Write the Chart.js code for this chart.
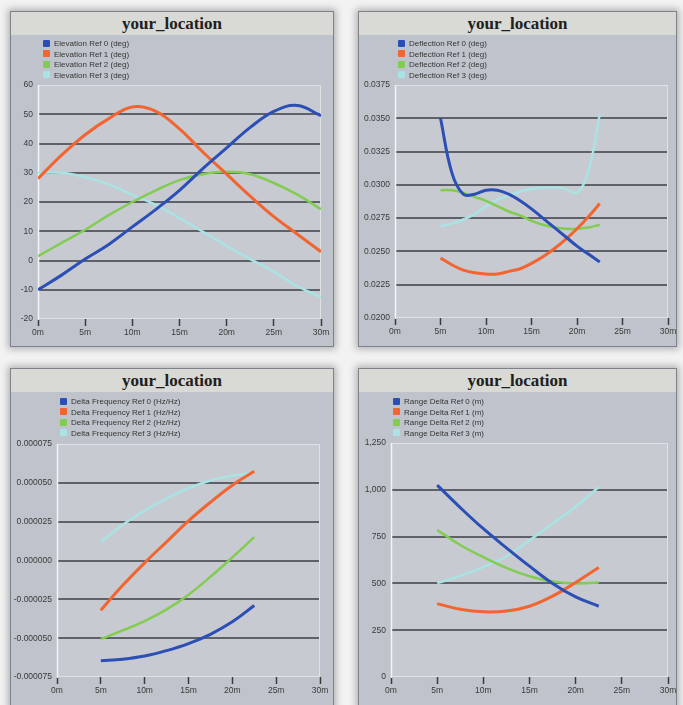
<!DOCTYPE html>
<html>
<head>
<meta charset="utf-8">
<script src="https://cdn.jsdelivr.net/npm/chart.js@4.4.1/dist/chart.umd.min.js"></script>
<style>
  html, body { margin: 0; padding: 0; width: 683px; height: 705px; overflow: hidden; background: #f2f2f2; }
  .panel { position: absolute; box-sizing: border-box; border: 1px solid #7f828a; background: #bfc3cb;
           box-shadow: 0 0 7px 2px rgba(0,0,0,0.28); overflow: hidden; }
  .title { position: absolute; left: 0; top: 0; right: 0; height: 23px; background: #d9d9d5;
           font: bold 17px "Liberation Serif", serif; color: #202020; text-align: center; line-height: 23px; }
  .plot { position: absolute; left: 0; top: 23px; }
  .legend { position: absolute; font: 8px "Liberation Sans", sans-serif; color: #353535; }
  .legend div { height: 10.5px; line-height: 10.5px; white-space: nowrap; }
  .legend span { display: inline-block; width: 7px; height: 7px; margin-right: 4px; vertical-align: -0.5px; border-radius: 1px; }
</style>
</head>
<body>
<div id="panels"></div>
<script>
// ---- data -------------------------------------------------------------
const chartTitle = 'your_location';
const xTickLabels = ['0m', '5m', '10m', '15m', '20m', '25m', '30m'];

// Elevation (deg)
const elevationDistance = [0, 2.5, 5, 7.5, 10, 12.5, 15, 17.5, 20, 22.5, 25, 27.5, 30];
const elevationRef0 = [-10, -5, 0.5, 5.5, 11.5, 17.5, 24, 31.5, 38.5, 45.5, 51, 53, 49.5];
const elevationRef1 = [28, 36, 43, 48.5, 52.5, 51, 45, 37, 29.5, 22, 15, 9, 3];
const elevationRef2 = [1.5, 6, 10.5, 15.5, 20, 24, 27.5, 29.5, 30.3, 29.5, 26.5, 22.5, 17.5];
const elevationRef3 = [30, 30, 28.5, 26, 22.5, 19, 14.5, 9.8, 5, 0.5, -3.8, -8.8, -12.5];
const elevationLabels = ['Elevation Ref 0 (deg)', 'Elevation Ref 1 (deg)', 'Elevation Ref 2 (deg)', 'Elevation Ref 3 (deg)'];
const elevationTicks = ['-20', '-10', '0', '10', '20', '30', '40', '50', '60'];

// Deflection (deg)
const deflectionDistance = [5, 6.25, 7.5, 8.75, 10, 11.25, 12.5, 13.75, 15, 16.25, 17.5, 18.75, 20, 21.25, 22.5];
const deflectionRef0 = [0.0350, 0.0309, 0.0293, 0.0293, 0.0296, 0.0296, 0.0293, 0.0288, 0.0282, 0.0275, 0.0268, 0.0261, 0.0254, 0.0248, 0.0242];
const deflectionRef1 = [0.0245, 0.0240, 0.0236, 0.0234, 0.0233, 0.0233, 0.0235, 0.0237, 0.0241, 0.0246, 0.0252, 0.0259, 0.0267, 0.0276, 0.0286];
const deflectionRef2 = [0.0296, 0.0296, 0.0294, 0.0291, 0.0288, 0.0284, 0.0280, 0.0277, 0.0273, 0.0270, 0.0268, 0.0267, 0.0267, 0.0268, 0.0270];
const deflectionRef3 = [0.0269, 0.0271, 0.0274, 0.0278, 0.0284, 0.0289, 0.0292, 0.0295, 0.0297, 0.0298, 0.0298, 0.0297, 0.0294, 0.0310, 0.0353];
const deflectionLabels = ['Deflection Ref 0 (deg)', 'Deflection Ref 1 (deg)', 'Deflection Ref 2 (deg)', 'Deflection Ref 3 (deg)'];
const deflectionTicks = ['0.0200', '0.0225', '0.0250', '0.0275', '0.0300', '0.0325', '0.0350', '0.0375'];

// Delta frequency (Hz/Hz)
const frequencyDistance = [5, 7.5, 10, 12.5, 15, 17.5, 20, 22.5];
const frequencyRef0 = [-0.0000645, -0.0000635, -0.0000615, -0.000058, -0.0000535, -0.0000475, -0.0000395, -0.000029];
const frequencyRef1 = [-0.000032, -0.000016, -0.0000015, 0.000012, 0.0000255, 0.0000375, 0.0000485, 0.0000575];
const frequencyRef2 = [-0.0000505, -0.000045, -0.000039, -0.0000315, -0.000022, -0.0000105, 0.000002, 0.000015];
const frequencyRef3 = [0.000012, 0.000023, 0.000032, 0.000040, 0.0000465, 0.0000515, 0.0000545, 0.0000565];
const frequencyLabels = ['Delta Frequency Ref 0 (Hz/Hz)', 'Delta Frequency Ref 1 (Hz/Hz)', 'Delta Frequency Ref 2 (Hz/Hz)', 'Delta Frequency Ref 3 (Hz/Hz)'];
const frequencyTicks = ['-0.000075', '-0.000050', '-0.000025', '0.000000', '0.000025', '0.000050', '0.000075'];

// Range delta (m)
const rangeDistance = [5, 7.5, 10, 12.5, 15, 17.5, 20, 22.5];
const rangeRef0 = [1025, 905, 792, 690, 592, 500, 428, 378];
const rangeRef1 = [392, 362, 348, 352, 378, 432, 505, 585];
const rangeRef2 = [785, 705, 640, 583, 538, 510, 500, 505];
const rangeRef3 = [502, 540, 588, 645, 730, 820, 910, 1015];
const rangeLabels = ['Range Delta Ref 0 (m)', 'Range Delta Ref 1 (m)', 'Range Delta Ref 2 (m)', 'Range Delta Ref 3 (m)'];
const rangeTicks = ['0', '250', '500', '750', '1,000', '1,250'];

const seriesColors = ['#2c4fb5', '#f26430', '#82cc52', '#a9e3e3'];
const seriesWidths = [3, 3, 2.5, 2.5];

// ---- panel layout -----------------------------------------------------
const panels = [
  { left: 10,  top: 11,  width: 324, height: 336, legendX: 32, legendY: 27,
    distance: elevationDistance, series: [elevationRef0, elevationRef1, elevationRef2, elevationRef3],
    labels: elevationLabels, ticks: elevationTicks, min: -20, max: 60, step: 10,
    yWidth: 27, pad: { left: 0, right: 12, top: 50, bottom: 3 } },
  { left: 358, top: 11,  width: 319, height: 336, legendX: 39, legendY: 27,
    distance: deflectionDistance, series: [deflectionRef0, deflectionRef1, deflectionRef2, deflectionRef3],
    labels: deflectionLabels, ticks: deflectionTicks, min: 0.02, max: 0.0375, step: 0.0025,
    yWidth: 36, pad: { left: 0, right: 8, top: 50, bottom: 4 } },
  { left: 10,  top: 368, width: 324, height: 340, legendX: 49, legendY: 28,
    distance: frequencyDistance, series: [frequencyRef0, frequencyRef1, frequencyRef2, frequencyRef3],
    labels: frequencyLabels, ticks: frequencyTicks, min: -0.000075, max: 0.000075, step: 0.000025,
    yWidth: 46, pad: { left: 0, right: 13, top: 52, bottom: 6 } },
  { left: 358, top: 368, width: 319, height: 340, legendX: 34, legendY: 28,
    distance: rangeDistance, series: [rangeRef0, rangeRef1, rangeRef2, rangeRef3],
    labels: rangeLabels, ticks: rangeTicks, min: 0, max: 1250, step: 250,
    yWidth: 32, pad: { left: 0, right: 8, top: 51, bottom: 6 } }
];

// Plot area fill and its light frame
const plotFrame = {
  id: 'plotFrame',
  beforeDraw(chart) {
    const { ctx, chartArea: a } = chart;
    ctx.save();
    ctx.fillStyle = '#c7cad1';
    ctx.fillRect(a.left, a.top, a.right - a.left, a.bottom - a.top);
    ctx.restore();
  },
  beforeDatasetsDraw(chart) {
    const { ctx, chartArea: a } = chart;
    ctx.save();
    ctx.strokeStyle = '#dfe1e6';
    ctx.lineWidth = 1;
    ctx.strokeRect(a.left + 0.5, a.top + 0.5, a.right - a.left - 1, a.bottom - a.top - 1);
    ctx.strokeStyle = '#f4f5f7';
    ctx.lineWidth = 1.5;
    ctx.beginPath();
    ctx.moveTo(a.left + 0.5, a.top);
    ctx.lineTo(a.left + 0.5, a.bottom + 1);
    ctx.stroke();
    ctx.restore();
  }
};

const tickFont = { family: '"Liberation Sans", sans-serif', size: 8.5 };
const host = document.getElementById('panels');

panels.forEach((p) => {
  const panel = document.createElement('div');
  panel.className = 'panel';
  Object.assign(panel.style, { left: p.left + 'px', top: p.top + 'px', width: p.width + 'px', height: p.height + 'px' });

  const title = document.createElement('div');
  title.className = 'title';
  title.textContent = chartTitle;
  panel.appendChild(title);

  const w = p.width - 2, h = p.height - 25;
  const box = document.createElement('div');
  box.className = 'plot';
  Object.assign(box.style, { width: w + 'px', height: h + 'px' });
  const canvas = document.createElement('canvas');
  canvas.width = w; canvas.height = h;
  canvas.style.width = w + 'px'; canvas.style.height = h + 'px';
  box.appendChild(canvas);
  panel.appendChild(box);

  const legend = document.createElement('div');
  legend.className = 'legend';
  Object.assign(legend.style, { left: p.legendX + 'px', top: p.legendY + 'px' });
  p.labels.forEach((lab, i) => {
    const row = document.createElement('div');
    const sw = document.createElement('span');
    sw.style.background = seriesColors[i];
    row.appendChild(sw);
    row.appendChild(document.createTextNode(lab));
    legend.appendChild(row);
  });
  panel.appendChild(legend);
  host.appendChild(panel);

  const datasets = p.series.map((vals, i) => ({
    label: p.labels[i],
    data: vals.map((v, k) => ({ x: p.distance[k], y: v })),
    borderColor: seriesColors[i],
    backgroundColor: seriesColors[i],
    borderWidth: seriesWidths[i],
    pointRadius: 0,
    tension: 0.4,
    fill: false
  }));

  new Chart(canvas, {
    type: 'line',
    data: { datasets },
    plugins: [plotFrame],
    options: {
      responsive: false,
      animation: false,
      layout: { padding: p.pad },
      plugins: { legend: { display: false }, tooltip: { enabled: false } },
      scales: {
        x: {
          type: 'linear', min: 0, max: 30,
          ticks: { stepSize: 5, font: tickFont, color: '#3a3a3a', padding: 2,
                   maxRotation: 0, autoSkip: false,
                   callback: (v) => xTickLabels[Math.round(v / 5)] },
          grid: { drawOnChartArea: false, drawTicks: true, tickLength: 7, tickColor: '#3c3c3c', tickWidth: 1.5 },
          border: { display: false },
          afterFit(s) { s.height = 24; s.paddingLeft = 0; s.paddingRight = 0; }
        },
        y: {
          type: 'linear', min: p.min, max: p.max,
          ticks: { stepSize: p.step, font: tickFont, color: '#3a3a3a', padding: 5, autoSkip: false,
                   callback: (v, idx) => p.ticks[idx] },
          grid: {
            drawTicks: false,
            lineWidth: 2,
            color: (c) => (c.index === 0 || c.index === p.ticks.length - 1) ? 'rgba(0,0,0,0)' : '#5e6168'
          },
          border: { display: false },
          afterFit(s) { s.width = p.yWidth; s.paddingTop = 0; s.paddingBottom = 0; }
        }
      }
    }
  });
});
</script>
</body>
</html>
